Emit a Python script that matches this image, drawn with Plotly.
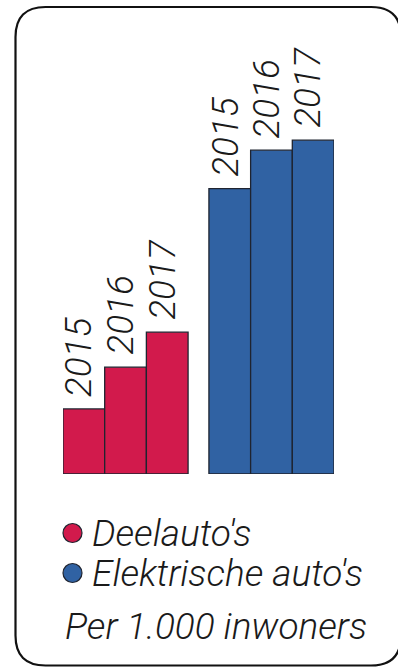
import plotly.graph_objects as go

# Per 1.000 inwoners
years = ["2015", "2016", "2017"]
deelautos = [3.9, 6.4, 8.5]
elektrisch = [17.1, 19.4, 20.0]

series_names = ["Deelauto's", "Elektrische auto's"]
footnote = "Per 1.000 inwoners"

RED = "#D21A4C"
BLUE = "#3062A3"
EDGE = "#1f2430"

W, H = 398, 668


def px(x):
    return x / W


def py(y):
    return 1 - y / H


# bar slots: three adjacent years per series, half a slot between the groups
group_offset = [0.0, 3.5]
fig = go.Figure()
annotations = []
label_font = dict(family="Roboto", size=37, color="#1a1a1a", weight=300, style="italic")
for g, (vals, color, name) in enumerate(((deelautos, RED, series_names[0]),
                                         (elektrisch, BLUE, series_names[1]))):
    xs = [group_offset[g] + i for i in range(len(years))]
    fig.add_trace(go.Bar(x=xs, y=vals, width=1.0, name=name, showlegend=False,
                         marker=dict(color=color, line=dict(color=EDGE, width=1.3)),
                         hoverinfo="skip"))
    for xv, yr, v in zip(xs, years, vals):
        annotations.append(dict(x=xv, y=v, xref="x", yref="y", text=yr,
                                textangle=-90, showarrow=False,
                                xanchor="center", yanchor="bottom",
                                yshift=10, xshift=-5, font=label_font))

legend_font = dict(family="Roboto", size=37, color="#1a1a1a", weight=300, style="italic")
shapes = []
for name, color, yc in ((series_names[0], RED, 533), (series_names[1], BLUE, 573)):
    shapes.append(dict(type="circle", xref="paper", yref="paper",
                       xsizemode="pixel", ysizemode="pixel",
                       xanchor=px(72.5), yanchor=py(yc),
                       x0=-9.5, x1=9.5, y0=-9.5, y1=9.5,
                       fillcolor=color, line=dict(color=EDGE, width=1.2)))
    annotations.append(dict(x=px(90), y=py(yc), xref="paper", yref="paper",
                            text=name, showarrow=False, xanchor="left",
                            yanchor="middle", font=legend_font))
annotations.append(dict(x=px(63), y=py(626), xref="paper", yref="paper",
                        text=footnote, showarrow=False, xanchor="left",
                        yanchor="middle", font=legend_font))

# rounded frame
l, r, t, b, rad = 15.5, 401, 7, 665.5, 30
rx, ry = rad / W, rad / H
L, R, T, B = px(l), px(r), py(t), py(b)
path = (f"M {L + rx},{T} L {R - rx},{T} Q {R},{T} {R},{T - ry} "
        f"L {R},{B + ry} Q {R},{B} {R - rx},{B} "
        f"L {L + rx},{B} Q {L},{B} {L},{B + ry} "
        f"L {L},{T - ry} Q {L},{T} {L + rx},{T} Z")
shapes.append(dict(type="path", xref="paper", yref="paper", path=path,
                   line=dict(color="#111111", width=2.2)))

axis_off = dict(showgrid=False, zeroline=False, showticklabels=False,
                showline=False, ticks="", fixedrange=True)

fig.update_layout(
    width=W, height=H,
    margin=dict(l=0, r=0, t=0, b=0),
    paper_bgcolor="white", plot_bgcolor="white",
    xaxis=dict(domain=[px(63), px(334)], range=[-0.5, 6.0], **axis_off),
    yaxis=dict(domain=[py(474), 1], range=[0, 28.4], **axis_off),
    annotations=annotations,
    shapes=shapes,
)

fig.write_html("out.html", config={"displayModeBar": False})
